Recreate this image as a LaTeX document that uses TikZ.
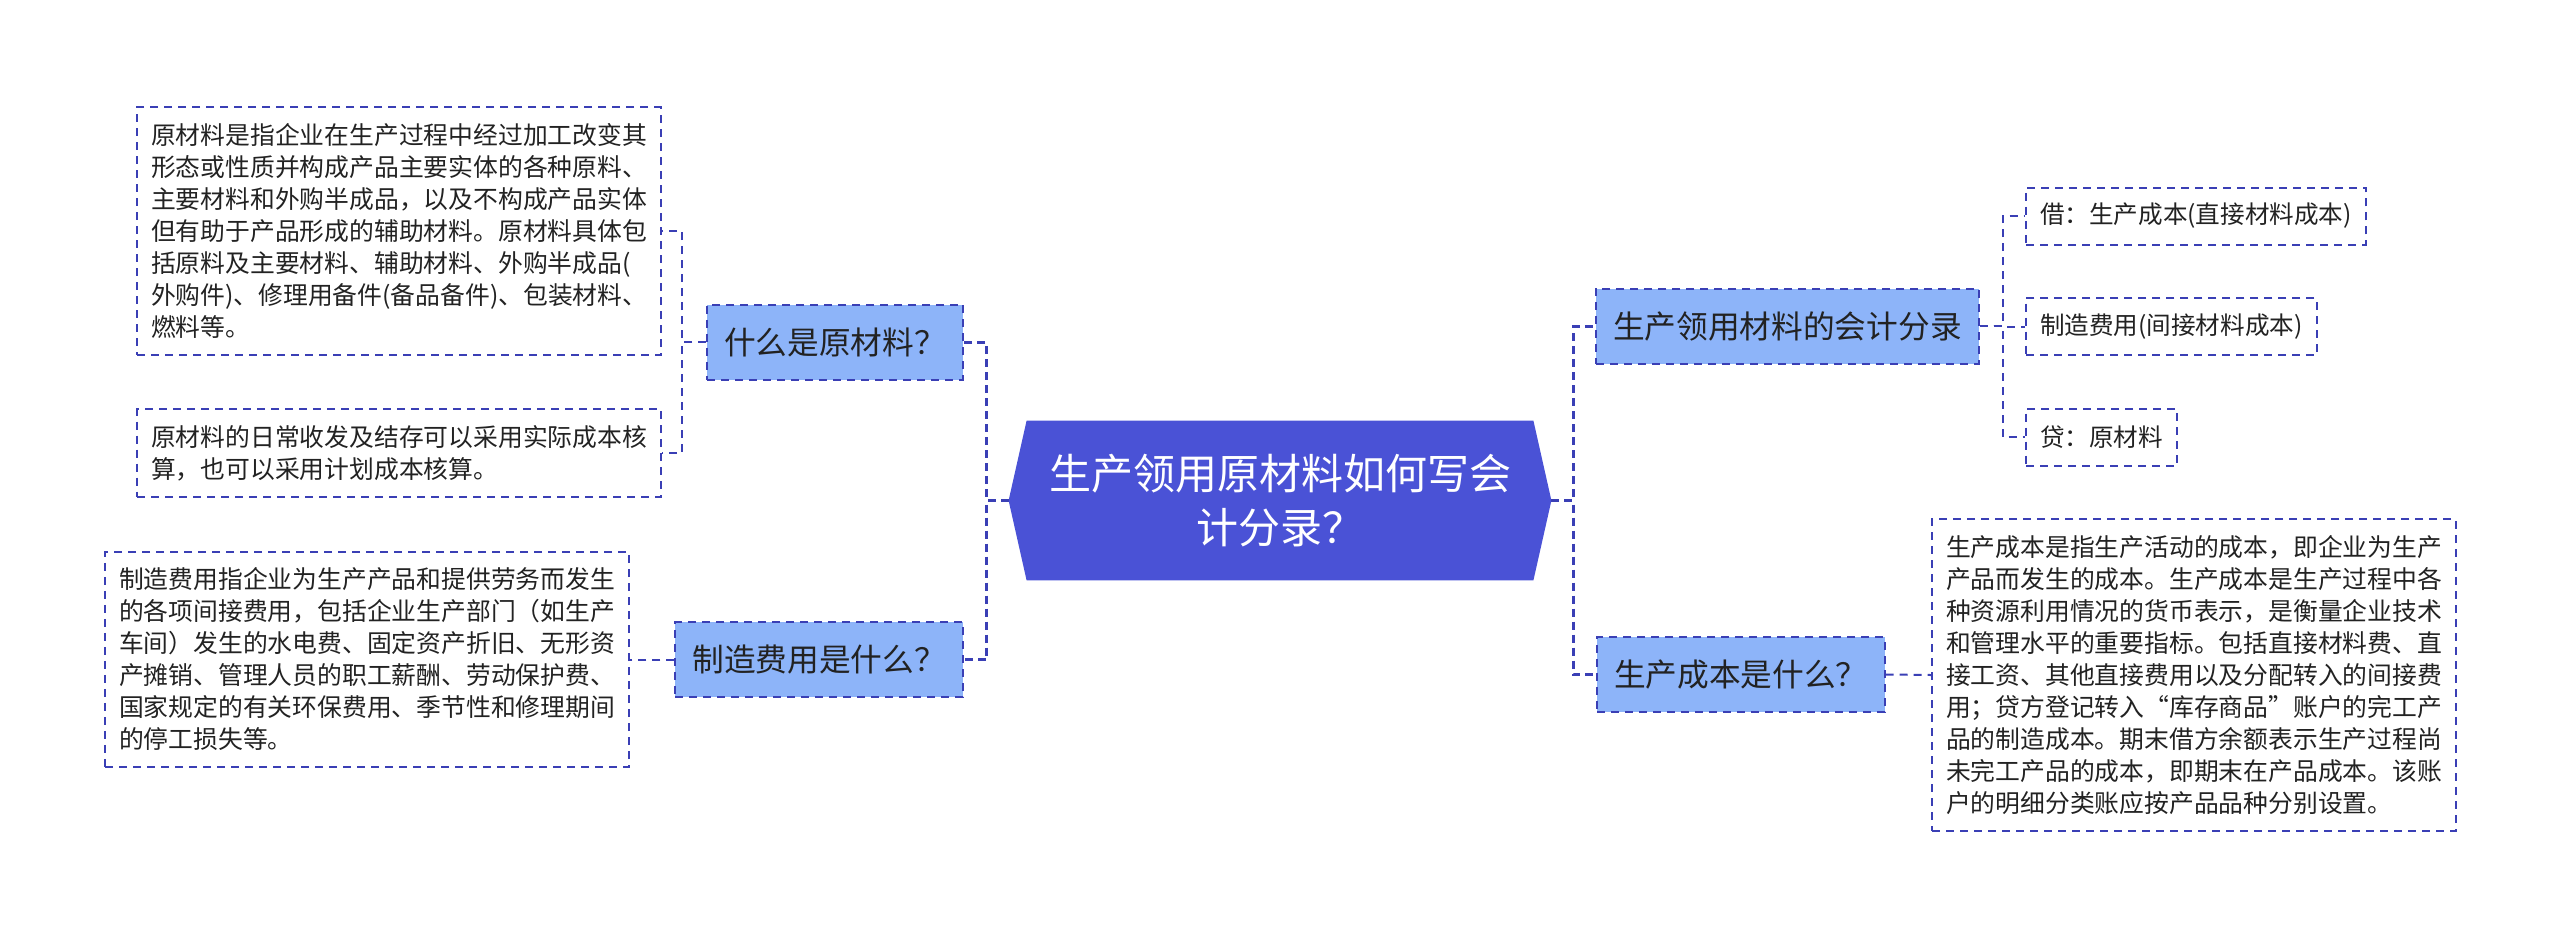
\documentclass[tikz,border=0pt]{standalone}
\usepackage{fontspec}
\setmainfont{Noto Sans CJK SC}
\usepackage{tikz}
\usetikzlibrary{backgrounds}

\definecolor{rootblue}{RGB}{74,82,214}
\definecolor{boxblue}{RGB}{141,180,249}
\definecolor{linkblue}{RGB}{58,63,181}
\definecolor{txtgray}{RGB}{34,34,34}

\tikzset{
    rootbox/.style={inner sep=0pt, minimum width=271pt, minimum height=79.5pt,
        align=center, text=white, font=\fontsize{21}{27}\selectfont},
    topicbox/.style={draw=linkblue, fill=boxblue, line width=1pt,
        dash pattern=on 4pt off 3pt, inner xsep=8.5pt, inner ysep=0pt,
        minimum height=37.5pt, text=txtgray, font=\fontsize{15.85}{19}\selectfont},
    tagbox/.style={draw=linkblue, line width=1pt, dash pattern=on 4pt off 3pt,
        inner xsep=7pt, inner ysep=0pt, minimum height=28.5pt, text=txtgray,
        font=\fontsize{12.3}{15}\selectfont},
    notebox/.style={draw=linkblue, line width=1pt, dash pattern=on 4pt off 3pt,
        text width=248pt, align=left, inner xsep=7pt, inner ysep=8pt,
        text=txtgray, font=\fontsize{12.4}{16}\selectfont},
    mainlink/.style={draw=linkblue, line width=1.5pt, dash pattern=on 4pt off 2.5pt},
    sublink/.style={draw=linkblue, line width=1pt, dash pattern=on 4pt off 3pt},
}

\begin{document}
\begin{tikzpicture}[x=0.5pt,y=-0.5pt]
        \useasboundingbox (0,0) rectangle (2560,938);

        % centro
        \node[rootbox] (root) at (1280,500.5) {生产领用原材料如何写会\\计分录？};
        \begin{scope}[on background layer]
            \fill[rootblue] (root.west) -- ([xshift=9pt]root.north west)
                -- ([xshift=-9pt]root.north east) -- (root.east)
                -- ([xshift=-9pt]root.south east) -- ([xshift=9pt]root.south west) -- cycle;
        \end{scope}

        % sinistra
        \node[topicbox, anchor=east] (raw) at (964,342) {什么是原材料？};
        \node[topicbox, anchor=east] (mfg) at (964,659.5) {制造费用是什么？};

        \node[notebox, anchor=east] (rawdef) at (662,231) {原材料是指企业在生产过程中经过加工改变其\\形态或性质并构成产品主要实体的各种原料、\\主要材料和外购半成品，以及不构成产品实体\\但有助于产品形成的辅助材料。原材料具体包\\括原料及主要材料、辅助材料、外购半成品(\\外购件)、修理用备件(备品备件)、包装材料、\\燃料等。};
        \node[notebox, anchor=east] (rawcost) at (662,453) {原材料的日常收发及结存可以采用实际成本核\\算，也可以采用计划成本核算。};
        \node[notebox, anchor=east] (mfgdef) at (630,659.5) {制造费用指企业为生产产品和提供劳务而发生\\的各项间接费用，包括企业生产部门（如生产\\车间）发生的水电费、固定资产折旧、无形资\\产摊销、管理人员的职工薪酬、劳动保护费、\\国家规定的有关环保费用、季节性和修理期间\\的停工损失等。};

        % destra
        \node[topicbox, anchor=west] (entry) at (1595,326) {生产领用材料的会计分录};
        \node[topicbox, anchor=west] (cost) at (1596,674.5) {生产成本是什么？};

        \node[tagbox, anchor=west] (debit) at (2025,216) {借：生产成本(直接材料成本)};
        \node[tagbox, anchor=west] (overhead) at (2025,326.5) {制造费用(间接材料成本)};
        \node[tagbox, anchor=west] (credit) at (2025,437) {贷：原材料};

        \node[notebox, anchor=west] (costdef) at (1931,675) {生产成本是指生产活动的成本，即企业为生产\\产品而发生的成本。生产成本是生产过程中各\\种资源利用情况的货币表示，是衡量企业技术\\和管理水平的重要指标。包括直接材料费、直\\接工资、其他直接费用以及分配转入的间接费\\用；贷方登记转入“库存商品”账户的完工产\\品的制造成本。期末借方余额表示生产过程尚\\未完工产品的成本，即期末在产品成本。该账\\户的明细分类账应按产品品种分别设置。};

        % collegamenti
        \foreach \n in {raw,mfg}{
            \draw[mainlink] (root.west) -- ++(-22,0) |- (\n.east);
        }
        \foreach \n in {entry,cost}{
            \draw[mainlink] (root.east) -- ++(22,0) |- (\n.west);
        }
        \foreach \n in {rawdef,rawcost}{
            \draw[sublink] (raw.west) -- ++(-24,0) |- (\n.east);
        }
        \foreach \n in {debit,overhead,credit}{
            \draw[sublink] (entry.east) -- ++(23,0) |- (\n.west);
        }
        \draw[sublink] (mfg.west) -- (mfgdef.east);
        \draw[sublink] (cost.east) -- (costdef.west);
    \end{tikzpicture}
\end{document}
